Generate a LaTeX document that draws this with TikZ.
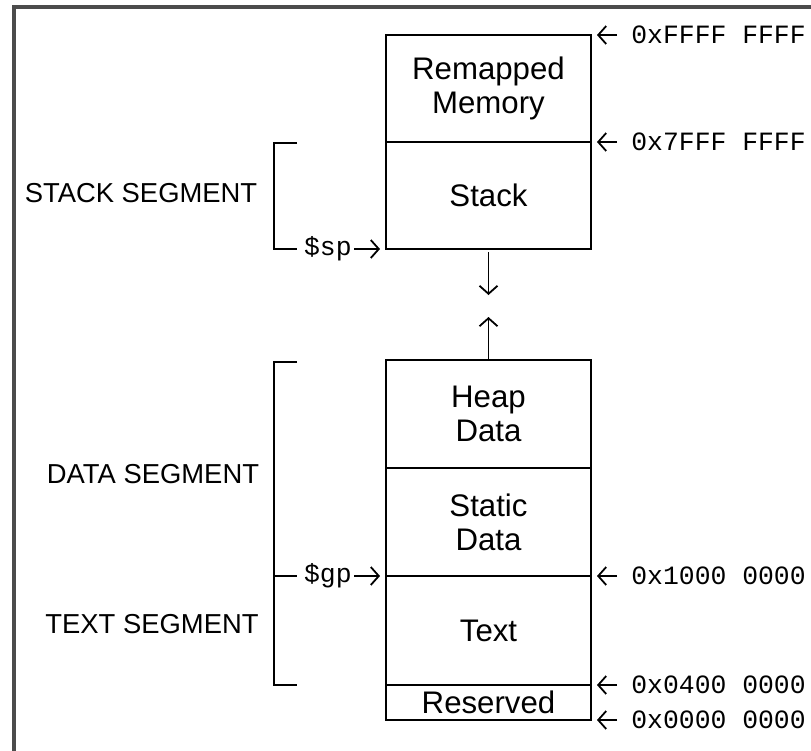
\documentclass[tikz,border=0pt]{standalone}
\usepackage{fontspec}
\setmainfont{Liberation Sans}
\newfontfamily\monofont{Liberation Mono}
\usetikzlibrary{positioning,arrows.meta}

\tikzset{
  seg/.style={draw, line width=1pt, outer sep=0pt, inner sep=0pt,
    minimum width=102.5pt, align=center, font=\fontsize{15.6}{17}\selectfont},
  lbl/.style={font=\fontsize{13.7}{16}\selectfont},
  addr/.style={anchor=west, inner xsep=7pt, inner ysep=0pt, font=\monofont\fontsize{13.2}{15}\selectfont},
  reg/.style={anchor=east, inner xsep=1pt, inner ysep=0pt, font=\monofont\fontsize{13.2}{15}\selectfont},
  ptr/.style={-{Straight Barb[length=4pt,width=9pt]}, line width=0.9pt, shorten >=3pt},
  brk/.style={line width=1pt}
}

\begin{document}
\begin{tikzpicture}[x=0.5pt,y=-0.5pt]
      \useasboundingbox (0,0) rectangle (811,751);
      \draw[line width=1.6pt, black!70] (14,760) -- (14,7) -- (820,7);
      % upper part of the address space
      \node[seg, minimum height=53.5pt] (remap) at (488.5,88.5) {Remapped\\Memory};
      \node[seg, minimum height=53.5pt, below=0pt of remap] (stack) {Stack};
      % lower part
      \node[seg, minimum height=54pt] (heap) at (488.5,414) {Heap\\Data};
      \node[seg, minimum height=54pt, below=0pt of heap] (static) {Static\\Data};
      \node[seg, minimum height=54.5pt, below=0pt of static] (text) {Text};
      \node[seg, minimum height=17.5pt, below=0pt of text] (resv) {Reserved};
      % growth arrows
      \coordinate (stkend) at (488.5,295);
      \coordinate (heapend) at (488.5,317);
      \draw[ptr, shorten >=0pt] (stack.south) ++(0,3) coordinate (stkstart) (stkstart) -- (stkend);
      \draw[ptr, shorten >=0pt] (heap.north) -- (heapend);
      % addresses
      \node[addr] (aFFFF) at (617,35) {0xFFFF FFFF};
      \node[addr] (a7FFF) at (617,142) {0x7FFF FFFF};
      \node[addr] (a1000) at (617,576) {0x1000 0000};
      \node[addr] (a0400) at (617,685) {0x0400 0000};
      \node[addr] (a0000) at (617,720) {0x0000 0000};
      \draw[ptr] (aFFFF.west) -- (remap.north east);
      \draw[ptr] (a7FFF.west) -- (remap.south east);
      \draw[ptr] (a1000.west) -- (static.south east);
      \draw[ptr] (a0400.west) -- (text.south east);
      \draw[ptr] (a0000.west) -- (resv.south east);
      % registers
      \node[reg] (sp) at (354,249) {\$sp};
      \node[reg] (gp) at (354,576) {\$gp};
      \draw[ptr] (sp.east) -- (stack.south west);
      \draw[ptr] (gp.east) -- (static.south west);
      % segment brackets
      \draw[brk] (297,143) -| (274,249) -- (297,249);
      \draw[brk] (297,362) -| (274,685) -- (297,685);
      \draw[brk] (274,576) -- (297,576);
      \node[lbl] (stkseg) at (141,193) {STACK SEGMENT};
      \node[lbl] (dataseg) at (153,474) {DATA SEGMENT};
      \node[lbl] (textseg) at (152,624) {TEXT SEGMENT};
\end{tikzpicture}
\end{document}
